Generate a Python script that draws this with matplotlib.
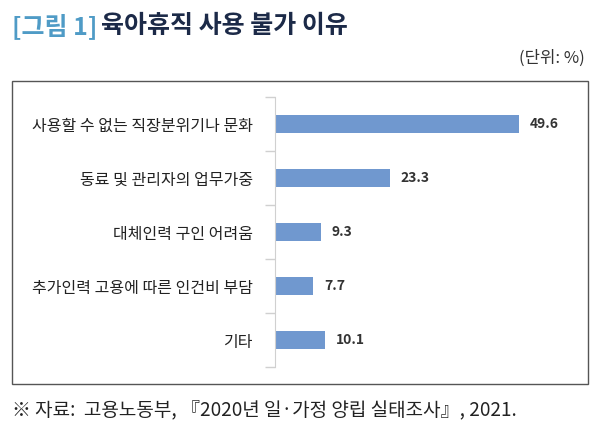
import matplotlib
matplotlib.use("Agg")
import matplotlib.pyplot as plt
from matplotlib.patches import Rectangle
import numpy as np

plt.rcParams['font.family'] = ['Noto Sans CJK KR', 'DejaVu Sans']

categories = ["사용할 수 없는 직장분위기나 문화", "동료 및 관리자의 업무가중",
              "대체인력 구인 어려움", "추가인력 고용에 따른 인건비 부담", "기타"]
values = [49.6, 23.3, 9.3, 7.7, 10.1]
value_labels = ["49.6", "23.3", "9.3", "7.7", "10.1"]

W, H = 600, 430
fig = plt.figure(figsize=(6.0, 4.3), dpi=100)

def fx(px):
    return px / W

def fy(py):
    return 1 - py / H

# Title
fig.text(fx(12), fy(26), "[그림 1]", fontsize=18, fontweight='semibold', color='#4f9bc6',
         ha='left', va='center')
fig.text(fx(101), fy(26), "육아휴직 사용 불가 이유", fontsize=18, fontweight='bold',
         color='#1c2a48', ha='left', va='center')
fig.text(fx(585), fy(58), "(단위: %)", fontsize=12, color='#333333', ha='right', va='center')

# Outer box
fig.patches.append(Rectangle((fx(12), fy(384)), fx(576), (384 - 81) / H,
                             transform=fig.transFigure, fill=False,
                             edgecolor='#555555', linewidth=1.0))

# Footer
fig.text(fx(12), fy(410), "※ 자료:  고용노동부, 『2020년 일·가정 양립 실태조사』, 2021.",
         fontsize=13.7, color='#222222', ha='left', va='center')

ax = fig.add_axes([fx(275), fy(367), fx(290), (367 - 97) / H])
y = np.arange(len(categories))
ax.barh(y, values, height=0.35, color='#7098cf')
ax.set_ylim(-0.5, len(categories) - 0.5)
ax.invert_yaxis()
ax.set_xlim(0, 59)

for yi, v, lab in zip(y, values, value_labels):
    ax.annotate(lab, (v, yi), xytext=(8, 0), textcoords='offset points',
                ha='left', va='center', fontsize=10, fontweight='bold', color='#333333')

ax.set_yticks(y)
ax.set_yticklabels(categories, fontsize=11.5, color='#222222')
ax.tick_params(axis='y', which='major', length=0, pad=16)
ax.set_yticks(np.arange(-0.5, len(categories)), minor=True)
ax.tick_params(axis='y', which='minor', length=7, color='#d0d0d0', width=1)
ax.set_xticks([])
for s in ['top', 'right', 'bottom']:
    ax.spines[s].set_visible(False)
ax.spines['left'].set_color('#d0d0d0')

fig.savefig("out.png", dpi=100)
